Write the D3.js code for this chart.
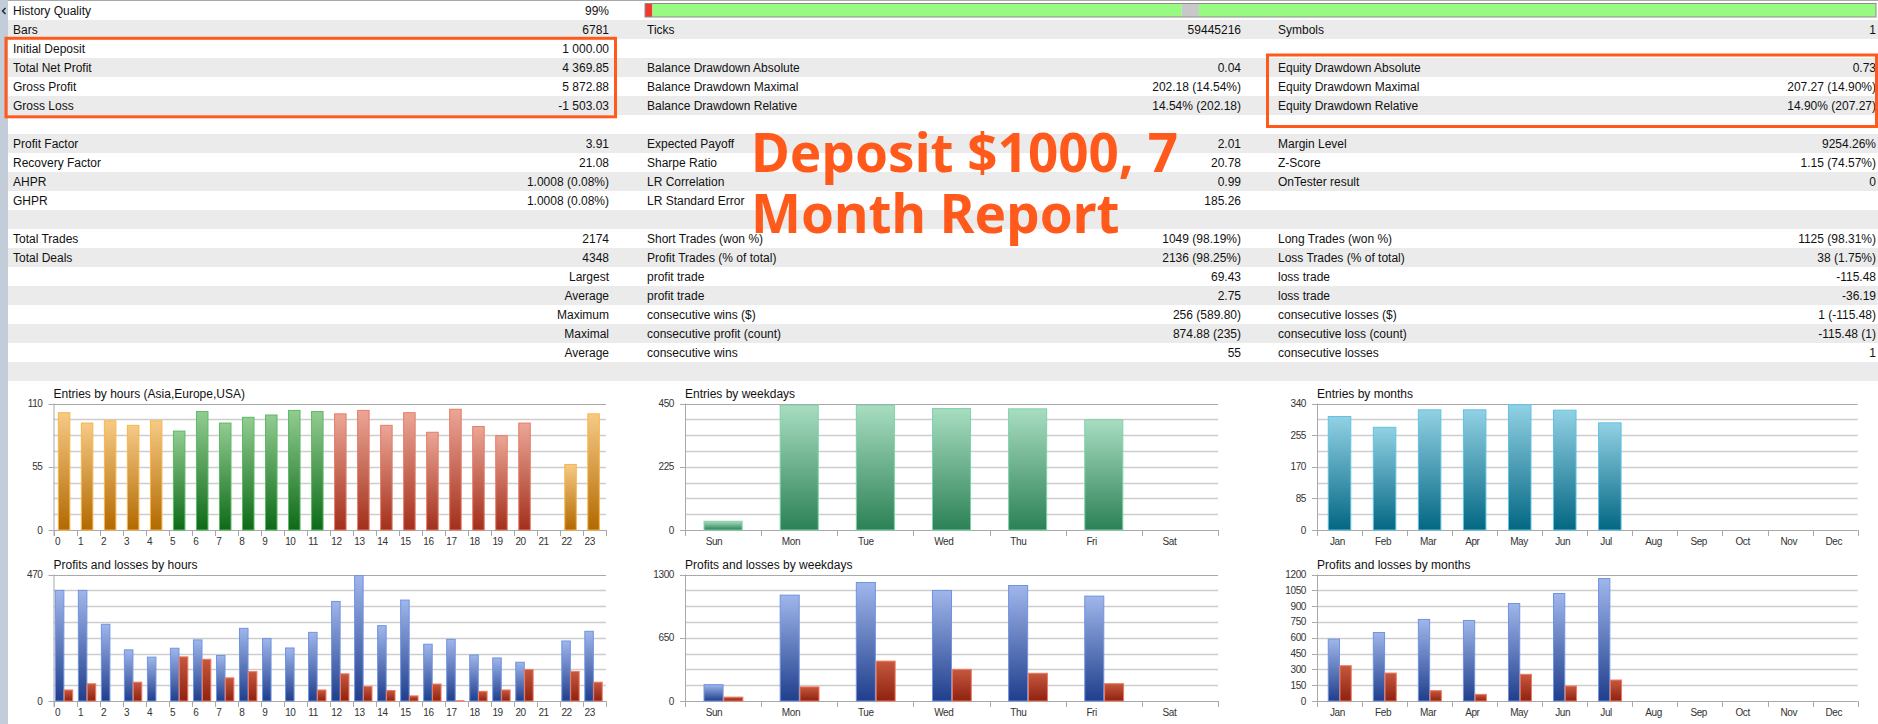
<!DOCTYPE html>
<html>
<head>
<meta charset="utf-8">
<script src="https://cdnjs.cloudflare.com/ajax/libs/d3/7.8.5/d3.min.js"></script>
<style>
body { margin: 0; background: #fff; }
svg { display: block; font-family: "Liberation Sans", Arial, sans-serif; }
</style>
</head>
<body>
<div id="graphic"></div>
<script>
//report table, one array per column: [row, label, value]
var col1Rows = [
    [0, "History Quality", "99%"],
    [1, "Bars", "6781"],
    [2, "Initial Deposit", "1 000.00"],
    [3, "Total Net Profit", "4 369.85"],
    [4, "Gross Profit", "5 872.88"],
    [5, "Gross Loss", "-1 503.03"],
    [7, "Profit Factor", "3.91"],
    [8, "Recovery Factor", "21.08"],
    [9, "AHPR", "1.0008 (0.08%)"],
    [10, "GHPR", "1.0008 (0.08%)"],
    [12, "Total Trades", "2174"],
    [13, "Total Deals", "4348"],
    [14, "", "Largest"],
    [15, "", "Average"],
    [16, "", "Maximum"],
    [17, "", "Maximal"],
    [18, "", "Average"]
];
var col2Rows = [
    [1, "Ticks", "59445216"],
    [3, "Balance Drawdown Absolute", "0.04"],
    [4, "Balance Drawdown Maximal", "202.18 (14.54%)"],
    [5, "Balance Drawdown Relative", "14.54% (202.18)"],
    [7, "Expected Payoff", "2.01"],
    [8, "Sharpe Ratio", "20.78"],
    [9, "LR Correlation", "0.99"],
    [10, "LR Standard Error", "185.26"],
    [12, "Short Trades (won %)", "1049 (98.19%)"],
    [13, "Profit Trades (% of total)", "2136 (98.25%)"],
    [14, "profit trade", "69.43"],
    [15, "profit trade", "2.75"],
    [16, "consecutive wins ($)", "256 (589.80)"],
    [17, "consecutive profit (count)", "874.88 (235)"],
    [18, "consecutive wins", "55"]
];
var col3Rows = [
    [1, "Symbols", "1"],
    [3, "Equity Drawdown Absolute", "0.73"],
    [4, "Equity Drawdown Maximal", "207.27 (14.90%)"],
    [5, "Equity Drawdown Relative", "14.90% (207.27)"],
    [7, "Margin Level", "9254.26%"],
    [8, "Z-Score", "1.15 (74.57%)"],
    [9, "OnTester result", "0"],
    [12, "Long Trades (won %)", "1125 (98.31%)"],
    [13, "Loss Trades (% of total)", "38 (1.75%)"],
    [14, "loss trade", "-115.48"],
    [15, "loss trade", "-36.19"],
    [16, "consecutive losses ($)", "1 (-115.48)"],
    [17, "consecutive loss (count)", "-115.48 (1)"],
    [18, "consecutive losses", "1"]
];

//history quality bar, share of each part
var qualityParts = [0.006, 0.43, 0.014, 0.55];
var qualityKinds = ["bad", "good", "none", "good"];

var headline = ["Deposit $1000, 7", "Month Report"];

//chart data
var hours = d3.range(24).map(String);
var hourSession = ["asia","asia","asia","asia","asia","europe","europe","europe","europe","europe","europe","europe",
    "usa","usa","usa","usa","usa","usa","usa","usa","usa","none","asia","asia"];
var hourEntries = [102, 93, 95, 91, 95, 86, 103, 93, 98, 100, 104, 103, 101, 104, 91, 102, 85, 105, 90, 82, 93, 0, 57, 101];
var hourProfit = [411, 411, 285, 190, 163, 196, 227, 169, 270, 232, 197, 255, 370, 466, 280, 375, 211, 229, 171, 160, 144, 0, 223, 259];
var hourLoss = [41, 64, 0, 70, 0, 164, 155, 86, 109, 0, 0, 41, 101, 54, 39, 19, 63, 1, 36, 41, 117, 0, 110, 70];

var weekdays = ["Sun", "Mon", "Tue", "Wed", "Thu", "Fri", "Sat"];
var weekdayEntries = [31, 444, 444, 432, 431, 392, 0];
var weekdayProfit = [168, 1088, 1218, 1136, 1187, 1078, 0];
var weekdayLoss = [40, 145, 410, 325, 285, 178, 0];

var months = ["Jan", "Feb", "Mar", "Apr", "May", "Jun", "Jul", "Aug", "Sep", "Oct", "Nov", "Dec"];
var monthEntries = [305, 276, 323, 323, 337, 322, 288, 0, 0, 0, 0, 0];
var monthProfit = [587, 650, 774, 764, 925, 1020, 1162, 0, 0, 0, 0, 0];
var monthLoss = [335, 265, 98, 63, 253, 142, 199, 0, 0, 0, 0, 0];

//axis tick labels
var hourEntryTicks = [0, 55, 110];
var hourPnlTicks = [0, 470];
var weekdayEntryTicks = [0, 225, 450];
var weekdayPnlTicks = [0, 650, 1300];
var monthEntryTicks = [0, 85, 170, 255, 340];
var monthPnlTicks = [0, 150, 300, 450, 600, 750, 900, 1050, 1200];

//base colors
var colors = {
    'orange': ['#F6CA86', '#B26900', '#F9B54A'],
    'green': ['#92CC92', '#0D6A17', '#5DBA63'],
    'red': ['#ECA696', '#A22F1B', '#E67C68'],
    'blue': ['#A0B6EB', '#1F3E8C', '#7093E0'],
    'loss': ['#C6583E', '#8E2210', '#EE7A62'],
    'mint': ['#A8DDC1', '#2C8156', '#7ED3A6'],
    'teal': ['#92D1E4', '#036783', '#60C3E3']
};
var sessionColor = { 'asia': 'orange', 'europe': 'green', 'usa': 'red', 'none': 'red' };
var accent = '#FF5A1C';

var W = 1878, H = 724;
var svg = d3.select("#graphic").append("svg")
    .attr("width", W)
    .attr("height", H);

var defs = svg.append("defs");
Object.keys(colors).forEach(function(k) {
    var lg = defs.append("linearGradient")
        .attr("id", "g-" + k)
        .attr("x1", 0).attr("y1", 0).attr("x2", 0).attr("y2", 1);
    lg.append("stop").attr("offset", "0%").attr("stop-color", colors[k][0]);
    lg.append("stop").attr("offset", "100%").attr("stop-color", colors[k][1]);
});

/*
 * table
 */
var rowH = 19, rowTop = 1;

svg.append("g").selectAll("rect")
    .data(d3.range(20).filter(function(i) { return i % 2 == 1; }))
    .enter().append("rect")
        .attr("x", 8)
        .attr("y", function(i) { return rowTop + i * rowH; })
        .attr("width", W - 8)
        .attr("height", rowH)
        .attr("fill", "#EBEBEB");

//left strip and top border
svg.append("rect").attr("x", 0).attr("y", 0).attr("width", 8).attr("height", H).attr("fill", "#C2CDD9");
svg.append("line").attr("x1", 8).attr("x2", W).attr("y1", 0.5).attr("y2", 0.5).attr("stroke", "#A8A8A8");
svg.append("path").attr("d", "M5.5,8 L2.5,11 L5.5,14").attr("fill", "none").attr("stroke", "#222").attr("stroke-width", 1.4);

var columns = [
    { rows: col1Rows, lx: 13, vx: 609 },
    { rows: col2Rows, lx: 647, vx: 1241 },
    { rows: col3Rows, lx: 1278, vx: 1876 }
];

columns.forEach(function(col) {
    var g = svg.append("g").style("font-size", "12px").attr("fill", "#111");
    g.selectAll("text.lab")
        .data(col.rows)
        .enter().append("text")
            .attr("class", "lab")
            .attr("x", col.lx)
            .attr("y", function(d) { return rowTop + d[0] * rowH + 13.8; })
            .text(function(d) { return d[1]; });
    g.selectAll("text.val")
        .data(col.rows)
        .enter().append("text")
            .attr("class", "val")
            .attr("x", col.vx)
            .attr("y", function(d) { return rowTop + d[0] * rowH + 13.8; })
            .attr("text-anchor", "end")
            .text(function(d) { return d[2]; });
});

//history quality bar
var qx = d3.scaleLinear().domain([0, 1]).range([645, 1876]);
var qualityFill = { 'bad': '#F23A2E', 'good': '#98FA80', 'none': '#C8C8C8' };
var qStart = d3.cumsum([0].concat(qualityParts));
svg.append("g").selectAll("rect")
    .data(qualityParts)
    .enter().append("rect")
        .attr("x", function(d, i) { return qx(qStart[i]); })
        .attr("y", 3.5)
        .attr("width", function(d) { return qx(d) - qx(0); })
        .attr("height", 13.5)
        .attr("fill", function(d, i) { return qualityFill[qualityKinds[i]]; });
svg.append("rect")
    .attr("x", 645).attr("y", 3.5).attr("width", 1231).attr("height", 13.5)
    .attr("fill", "none").attr("stroke", "#8E8E8E");

//highlight boxes
svg.append("rect").attr("x", 6).attr("y", 38.3).attr("width", 609.5).attr("height", 78.5)
    .attr("fill", "none").attr("stroke", accent).attr("stroke-width", 3);
svg.append("rect").attr("x", 1267.5).attr("y", 55).attr("width", 609).attr("height", 71.5)
    .attr("fill", "none").attr("stroke", accent).attr("stroke-width", 3);

svg.append("g").selectAll("text")
    .data(headline)
    .enter().append("text")
        .attr("x", 751)
        .attr("y", function(d, i) { return 172 + i * 61; })
        .attr("fill", accent)
        .style("font-family", "'Noto Sans', 'Open Sans', sans-serif")
        .style("font-weight", 700)
        .style("font-size", "53px")
        .text(function(d) { return d; });

/*
 * bar charts
 */
function drawChart(opt) {
    var g = svg.append("g");
    var x = d3.scaleBand().domain(opt.cats).range([opt.x0, opt.x1]);
    var y = d3.scaleLinear().domain([0, opt.max]).range([opt.yBase, opt.yTop]);
    var bw = x.bandwidth();

    g.append("text")
        .attr("x", opt.x0)
        .attr("y", opt.yTop - 5.5)
        .style("font-size", "12px")
        .attr("fill", "#111")
        .text(opt.title);

    //grid, 8 steps
    g.selectAll("line.grid")
        .data(d3.range(0, 9).map(function(i) { return opt.max * i / 8; }))
        .enter().append("line")
            .attr("class", "grid")
            .attr("x1", opt.x0)
            .attr("x2", opt.x1)
            .attr("y1", function(d) { return Math.round(y(d)) + 0.5; })
            .attr("y2", function(d) { return Math.round(y(d)) + 0.5; })
            .attr("stroke", function(d, i) { return (i == 0 || i == 8) ? "#A9A9A9" : "#CDCDCD"; })
            .attr("stroke-width", function(d, i) { return (i == 0 || i == 8) ? 1 : 1.6; });

    //y axis
    g.append("line")
        .attr("x1", opt.x0 + 0.5).attr("x2", opt.x0 + 0.5)
        .attr("y1", opt.yTop).attr("y2", opt.yBase + 6)
        .attr("stroke", "#A9A9A9");
    g.selectAll("line.ytick")
        .data(opt.ticks)
        .enter().append("line")
            .attr("class", "ytick")
            .attr("x1", opt.x0 - 5).attr("x2", opt.x0)
            .attr("y1", function(d) { return Math.round(y(d)) + 0.5; })
            .attr("y2", function(d) { return Math.round(y(d)) + 0.5; })
            .attr("stroke", "#A9A9A9");
    g.selectAll("text.ylab")
        .data(opt.ticks)
        .enter().append("text")
            .attr("class", "ylab")
            .attr("x", opt.x0 - 11)
            .attr("y", function(d) { return y(d) + 3.5; })
            .attr("text-anchor", "end")
            .style("font-size", "10px")
            .style("letter-spacing", "-0.4px")
            .attr("fill", "#333")
            .text(function(d) { return d; });

    //x ticks at band edges
    g.selectAll("line.xtick")
        .data(opt.cats.concat(["end"]))
        .enter().append("line")
            .attr("class", "xtick")
            .attr("x1", function(d) { return Math.round(d == "end" ? opt.x1 : x(d)) + 0.5; })
            .attr("x2", function(d) { return Math.round(d == "end" ? opt.x1 : x(d)) + 0.5; })
            .attr("y1", opt.yBase).attr("y2", opt.yBase + 6)
            .attr("stroke", "#A9A9A9");
    g.selectAll("text.xlab")
        .data(opt.cats)
        .enter().append("text")
            .attr("class", "xlab")
            .attr("x", function(d) { return x(d) + opt.labelDx; })
            .attr("y", opt.yBase + 15)
            .style("font-size", "10px")
            .style("letter-spacing", "-0.4px")
            .attr("fill", "#333")
            .text(function(d) { return d; });

    //bars
    opt.series.forEach(function(s) {
        var pts = opt.cats.map(function(c, i) { return { c: c, v: s.values[i], i: i }; })
            .filter(function(d) { return d.v > 0; });
        g.selectAll(null)
            .data(pts)
            .enter().append("rect")
                .attr("x", function(d) { return x(d.c) + bw * s.offset; })
                .attr("y", function(d) { return y(d.v); })
                .attr("width", bw * s.width)
                .attr("height", function(d) { return y(0) - y(d.v); })
                .attr("fill", function(d) { return "url(#g-" + s.color(d.i) + ")"; })
                .attr("stroke", function(d) { return colors[s.color(d.i)][2]; })
                .attr("stroke-width", 1);
    });
}

function fixed(name) { return function() { return name; }; }

var topChart = { yTop: 403.5, yBase: 530 };
var lowChart = { yTop: 574.5, yBase: 701 };
var hourBox = { x0: 53.5, x1: 606, labelDx: 1.5 };
var weekBox = { x0: 685, x1: 1218, labelDx: 20.7 };
var monthBox = { x0: 1317, x1: 1857.6, labelDx: 13 };

drawChart(Object.assign({}, topChart, hourBox, {
    title: "Entries by hours (Asia,Europe,USA)", cats: hours, max: 110, ticks: hourEntryTicks,
    series: [{ values: hourEntries, offset: 0.21, width: 0.5, color: function(i) { return sessionColor[hourSession[i]]; } }]
}));
drawChart(Object.assign({}, lowChart, hourBox, {
    title: "Profits and losses by hours", cats: hours, max: 470, ticks: hourPnlTicks,
    series: [
        { values: hourProfit, offset: 0.08, width: 0.37, color: fixed("blue") },
        { values: hourLoss, offset: 0.465, width: 0.37, color: fixed("loss") }
    ]
}));
drawChart(Object.assign({}, topChart, weekBox, {
    title: "Entries by weekdays", cats: weekdays, max: 450, ticks: weekdayEntryTicks,
    series: [{ values: weekdayEntries, offset: 0.25, width: 0.5, color: fixed("mint") }]
}));
drawChart(Object.assign({}, lowChart, weekBox, {
    title: "Profits and losses by weekdays", cats: weekdays, max: 1300, ticks: weekdayPnlTicks,
    series: [
        { values: weekdayProfit, offset: 0.25, width: 0.25, color: fixed("blue") },
        { values: weekdayLoss, offset: 0.51, width: 0.25, color: fixed("loss") }
    ]
}));
drawChart(Object.assign({}, topChart, monthBox, {
    title: "Entries by months", cats: months, max: 340, ticks: monthEntryTicks,
    series: [{ values: monthEntries, offset: 0.25, width: 0.5, color: fixed("teal") }]
}));
drawChart(Object.assign({}, lowChart, monthBox, {
    title: "Profits and losses by months", cats: months, max: 1200, ticks: monthPnlTicks,
    series: [
        { values: monthProfit, offset: 0.25, width: 0.25, color: fixed("blue") },
        { values: monthLoss, offset: 0.51, width: 0.25, color: fixed("loss") }
    ]
}));
</script>
</body>
</html>
